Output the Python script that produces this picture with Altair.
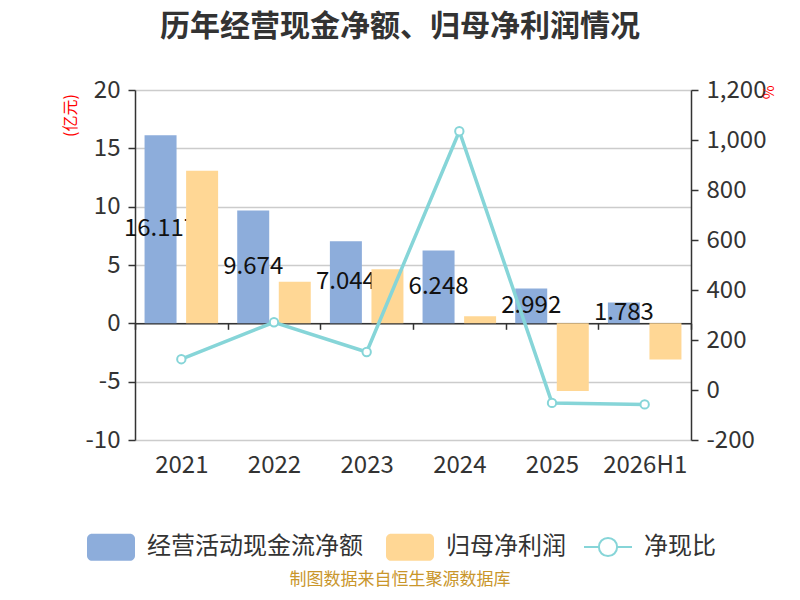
import altair as alt
import pandas as pd

# 数据（亿元 / %）
years = ["2021", "2022", "2023", "2024", "2025", "2026H1"]
cash_flow = [16.117, 9.674, 7.044, 6.248, 2.992, 1.783]
net_profit = [13.08, 3.57, 4.63, 0.61, -5.80, -3.09]
cash_ratio = [123.2, 271.0, 152.1, 1035.0, -51.6, -57.7]

S_CASH = "经营活动现金流净额"
S_PROFIT = "归母净利润"
S_RATIO = "净现比"

BLUE = "#8DADDB"
ORANGE = "#FFD795"
TEAL = "#86D5D8"
FONT = "Noto Sans CJK SC"
HYPHEN = "replace(datum.label, '\u2212', '-')"

df_cash = pd.DataFrame({"year": years, "series": S_CASH, "value": cash_flow})
df_cash["half"] = df_cash["value"] / 2
df_profit = pd.DataFrame({"year": years, "series": S_PROFIT, "value": net_profit})
df_ratio = pd.DataFrame({"year": years, "series": S_RATIO, "ratio": cash_ratio})

# 图例符号：圆角矩形 / 线+空心圆
RECT_PATH = ("M-0.79,-0.56 H0.79 A0.21,0.21 0 0 1 1,-0.35 V0.35 A0.21,0.21 0 0 1 0.79,0.56 "
             "H-0.79 A0.21,0.21 0 0 1 -1,0.35 V-0.35 A0.21,0.21 0 0 1 -0.79,-0.56 Z")
LINE_PATH = ("M-1,0 H-0.38 M0.38,0 H1 M-0.38,0 A0.38,0.38 0 1 0 0.38,0 "
             "A0.38,0.38 0 1 0 -0.38,0")

bar_color = alt.Color(
    "series:N",
    scale=alt.Scale(domain=[S_CASH, S_PROFIT], range=[BLUE, ORANGE]),
    legend=alt.Legend(
        title=None, orient="none", direction="horizontal",
        legendX=-49, legendY=432, symbolType=RECT_PATH, symbolOpacity=1,
        symbolSize=2304, labelFontSize=24, labelColor="#333", labelFont=FONT,
        labelOffset=11, labelLimit=400, columnPadding=22,
    ),
)

line_stroke = alt.Stroke(
    "series:N",
    scale=alt.Scale(domain=[S_RATIO], range=[TEAL]),
    legend=alt.Legend(
        title=None, orient="none", direction="horizontal",
        legendX=448, legendY=432, symbolType=LINE_PATH, symbolFillColor="white",
        symbolStrokeWidth=2, symbolSize=2304, symbolOpacity=1,
        labelFontSize=24, labelColor="#333", labelFont=FONT, labelOffset=11,
        labelLimit=200,
    ),
)

# x 轴：轴线在 0 处，刻度标签放在底部
x_axis = alt.Axis(title=None, labelAngle=0, labelFontSize=24, labelColor="#333",
                  domainColor="#333", domainWidth=1.5, tickColor="#333", tickWidth=1.5,
                  tickSize=6, tickBand="extent", offset=-116.7, labelPadding=124,
                  grid=False)
x_enc = alt.X("year:N", sort=years, scale=alt.Scale(paddingInner=0, paddingOuter=0),
              axis=x_axis)
xoff = alt.XOffset("series:N", scale=alt.Scale(domain=[S_CASH, S_PROFIT],
                                                paddingInner=0.23, paddingOuter=0.23))

left_scale = alt.Scale(domain=[-10, 20], nice=False)
left_axis = alt.Axis(values=list(range(-10, 21, 5)), labelExpr=HYPHEN,
                     title="(亿元)", titleColor="red",
                     titleFontSize=16, titleFontWeight="normal", titleFont=FONT,
                     titleX=-65, titleY=25, titleAngle=-90, titleAlign="center",
                     titleBaseline="middle",
                     labelFontSize=24, labelColor="#333", labelPadding=8,
                     gridColor="#cccccc", gridWidth=1.5,
                     domainColor="#333", domainWidth=1.5, tickColor="#333",
                     tickWidth=1.5, tickSize=7)

cash_bars = alt.Chart(df_cash).mark_bar().encode(
    x=x_enc, xOffset=xoff,
    y=alt.Y("value:Q", scale=left_scale, axis=left_axis),
    color=bar_color,
)

cash_labels = alt.Chart(df_cash).mark_text(
    fontSize=24, color="#111", baseline="middle", font=FONT
).encode(
    x=x_enc, xOffset=xoff,
    y=alt.Y("half:Q", scale=left_scale, axis=left_axis),
    text=alt.Text("value:Q", format=".3f"),
)

profit_bars = alt.Chart(df_profit).mark_bar().encode(
    x=x_enc, xOffset=xoff,
    y=alt.Y("value:Q", scale=left_scale, axis=left_axis),
    color=bar_color,
)

ratio_line = alt.Chart(df_ratio).mark_line(
    strokeWidth=3.5,
    point=alt.OverlayMarkDef(filled=True, fill="white", stroke=TEAL, strokeWidth=2, size=70),
).encode(
    x=x_enc,
    y=alt.Y("ratio:Q", scale=alt.Scale(domain=[-200, 1200], nice=False),
            axis=alt.Axis(orient="right", values=list(range(-200, 1201, 200)),
                          format=",.0f", labelExpr=HYPHEN,
                          title="%", titleColor="red", titleFontSize=15,
                          titleFontWeight="normal", titleFont=FONT,
                          titleX=76, titleY=2, titleAngle=90, titleAlign="center",
                          titleBaseline="middle",
                          labelFontSize=24, labelColor="#333", labelPadding=8,
                          grid=False, domainColor="#333", domainWidth=1.5,
                          tickColor="#333", tickWidth=1.5, tickSize=7)),
    stroke=line_stroke,
)

title_text = alt.Chart(df_ratio.head(1)).mark_text(
    text="历年经营现金净额、归母净利润情况", fontSize=30, fontWeight="bold",
    color="#333", font=FONT, align="center", baseline="middle",
).encode(x=alt.value(265), y=alt.value(-63))

footer = alt.Chart(df_ratio.head(1)).mark_text(
    text="制图数据来自恒生聚源数据库", fontSize=17, color="#C9962B", font=FONT,
    align="center", baseline="middle",
).encode(x=alt.value(265), y=alt.value(490))

chart = alt.layer(
    alt.layer(cash_bars, cash_labels, profit_bars),
    ratio_line,
    title_text,
    footer,
).resolve_scale(
    y="independent"
).properties(
    width=556,
    height=350,
    padding={"left": 127, "top": 82, "right": 100, "bottom": 152},
    autosize=alt.AutoSizeParams(type="none"),
).configure(
    font=FONT
).configure_view(
    stroke=None
)

chart.save("out.html", embed_options={"renderer": "svg", "actions": False})
